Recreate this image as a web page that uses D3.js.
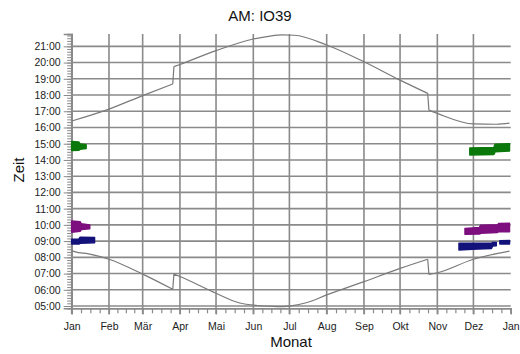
<!DOCTYPE html>
<html><head><meta charset="utf-8">
<script src="https://cdn.jsdelivr.net/npm/d3@7"></script>
<style>body{margin:0;background:#fff}svg{display:block}</style>
</head><body><svg id="c" width="520" height="354"></svg>
<script>
// ---- data ----
const chartTitle = "AM: IO39";
const xTitle = "Monat";
const yTitle = "Zeit";
const monthLabels = ["Jan","Feb","Mär","Apr","Mai","Jun","Jul","Aug","Sep","Okt","Nov","Dez","Jan"];
const hourLabels = ["05:00","06:00","07:00","08:00","09:00","10:00","11:00","12:00","13:00","14:00","15:00","16:00","17:00","18:00","19:00","20:00","21:00"];

const sunsetDates = ["01-01","02-01","03-01","03-26","03-27","04-01","05-01","06-01","06-15","06-25","07-05","08-01","09-01","10-01","10-24","10-25","11-01","12-01","12-20","12-31"];
const sunsetTimes = ["16:24","17:08","17:58","18:41","19:45","19:53","20:44","21:27","21:38","21:42","21:41","21:05","20:03","18:55","18:06","17:04","16:52","16:13","16:12","16:16"];

const sunriseDates = ["01-01","01-04","01-15","02-01","03-01","03-26","03-27","04-01","05-01","05-20","06-07","06-21","07-01","07-15","08-01","09-01","10-01","10-24","10-25","11-01","12-01","12-31"];
const sunriseTimes = ["08:25","08:20","08:13","07:53","06:58","06:02","06:58","06:49","05:47","05:12","05:01","04:58","05:00","05:12","05:41","06:30","07:19","07:53","06:57","07:03","07:53","08:23"];

// bands: segments of [date, from, to]
const greenBand = [
  [["01-01","14:35","15:08"],["01-07","14:36","15:06"],["01-08","14:40","14:59"],["01-13","14:42","14:56"]],
  [["11-28","14:18","14:44"],["12-18","14:20","14:46"],["12-19","14:30","14:58"],["12-31","14:33","15:00"]]
];
const purpleBand = [
  [["01-01","09:33","10:14"],["01-08","09:36","10:12"],["01-09","09:43","10:04"],["01-16","09:46","10:00"]],
  [["11-24","09:25","09:47"],["12-06","09:26","09:50"],["12-07","09:29","09:59"],["12-21","09:32","10:00"],["12-22","09:35","10:05"],["12-31","09:35","10:06"]]
];
const navyBand = [
  [["01-01","08:49","09:07"],["01-07","08:49","09:08"],["01-08","08:52","09:14"],["01-20","08:54","09:13"]],
  [["11-19","08:27","08:52"],["11-30","08:30","08:52"],["12-16","08:33","08:52"],["12-17","08:42","08:55"],["12-20","08:43","08:55"]],
  [["12-23","08:49","09:01"],["12-31","08:49","09:02"]]
];
const bandColors = {green:"#0b780b", purple:"#7d0f7f", navy:"#12127a"};

// ---- helpers ----
const YEAR = 2001;
const DAY = 864e5;
const pd = s => { const [m,d] = s.split("-").map(Number); return new Date(YEAR, m-1, d); };
const pt = s => { const [h,m] = s.split(":").map(Number); return h + m/60; };

const svg = d3.select("#c");
const x = d3.scaleTime().domain([new Date(YEAR,0,1), new Date(YEAR+1,0,1)]).range([71.7, 510.7]);
const y = d3.scaleLinear().domain([4.86, 21.76]).range([308.3, 34]);

const gridCol = "#8a8a8a";
const font = "'Liberation Sans', Arial, sans-serif";

// horizontal gridlines
const hours = d3.range(5, 22);
svg.append("g").selectAll("line").data(hours).join("line")
  .attr("x1", x.range()[0]).attr("x2", x.range()[1])
  .attr("y1", d => y(d)).attr("y2", d => y(d))
  .attr("stroke", gridCol).attr("stroke-width", 1.6);

// vertical gridlines (month starts)
const months = d3.timeMonth.range(new Date(YEAR,0,1), new Date(YEAR+1,0,2));
svg.append("g").selectAll("line").data(months.slice(0,12)).join("line")
  .attr("x1", d => x(d)).attr("x2", d => x(d))
  .attr("y1", y.range()[1]).attr("y2", y.range()[0] + 6)
  .attr("stroke", gridCol).attr("stroke-width", 1.6);

// y axis
const yAxis = d3.axisLeft(y).tickValues(hours).tickFormat((d,i) => hourLabels[i]).tickSize(8).tickPadding(3);
const yMinor = d3.axisLeft(y).tickValues(d3.range(4.86, 21.76, 1/6).map(v => Math.ceil(v*6-1e-6)/6).filter(v => v >= 4.87 && v <= 21.75)).tickFormat("").tickSize(4.5);
const gy = svg.append("g").attr("transform", `translate(${x.range()[0]},0)`).call(yAxis);
const gym = svg.append("g").attr("transform", `translate(${x.range()[0]},0)`).call(yMinor);
[gy, gym].forEach(g => {
  g.select(".domain").attr("stroke", gridCol).attr("stroke-width", 1.6);
  g.selectAll(".tick line").attr("stroke", gridCol).attr("stroke-width", 1);
  g.selectAll("text").attr("font-family", font).attr("font-size", 10.5).attr("fill", "#222");
});

// x axis
const xAxis = d3.axisBottom(x).tickValues(months).tickFormat((d,i) => monthLabels[i]).tickSize(6).tickPadding(8);
const minorDates = [];
months.slice(0,12).forEach((m,i) => {
  const a = +m, b = +months[i+1];
  for (let k = 1; k < 4; k++) minorDates.push(new Date(a + (b-a)*k/4));
});
const xMinor = d3.axisBottom(x).tickValues(minorDates).tickFormat("").tickSize(5);
const gx = svg.append("g").attr("transform", `translate(0,${y.range()[0]})`).call(xAxis);
const gxm = svg.append("g").attr("transform", `translate(0,${y.range()[0]})`).call(xMinor);
[gx, gxm].forEach(g => {
  g.select(".domain").attr("stroke", gridCol).attr("stroke-width", 1.6);
  g.selectAll(".tick line").attr("stroke", gridCol).attr("stroke-width", 1.2);
  g.selectAll("text").attr("font-family", font).attr("font-size", 10.5).attr("fill", "#222");
});

// sunset / sunrise curves: smooth pieces, straight jumps (clock change)
const smooth = d3.line().curve(d3.curveMonotoneX).x(d => x(d[0])).y(d => y(d[1]));
const straight = d3.line().x(d => x(d[0])).y(d => y(d[1]));
function drawCurve(pts) {
  let piece = [pts[0]];
  const out = [];
  for (let i = 1; i < pts.length; i++) {
    if (pts[i][0] - pts[i-1][0] <= 1.5*DAY) {
      out.push(smooth(piece));
      out.push(straight([pts[i-1], pts[i]]));
      piece = [pts[i]];
    } else piece.push(pts[i]);
  }
  out.push(smooth(piece));
  svg.append("path").attr("d", out.join("")).attr("fill", "none")
    .attr("stroke", "#7a7a7a").attr("stroke-width", 1.2).attr("stroke-linejoin", "round");
}
drawCurve(sunsetDates.map((d,i) => [pd(d), pt(sunsetTimes[i])]));
drawCurve(sunriseDates.map((d,i) => [pd(d), pt(sunriseTimes[i])]));

// bands
const area = d3.area().x(d => x(pd(d[0]))).y0(d => y(pt(d[1]))).y1(d => y(pt(d[2])));
[[greenBand,"green"],[purpleBand,"purple"],[navyBand,"navy"]].forEach(([segs, key]) => {
  segs.forEach(seg => {
    svg.append("path").attr("d", area(seg)).attr("fill", bandColors[key])
      .attr("stroke", bandColors[key]).attr("stroke-width", 1.5).attr("stroke-linejoin", "round");
  });
});

// titles
svg.append("text").attr("x", 260).attr("y", 21).attr("text-anchor", "middle")
  .attr("font-family", font).attr("font-size", 15).attr("fill", "#111").text(chartTitle);
svg.append("text").attr("x", 291).attr("y", 346.5).attr("text-anchor", "middle")
  .attr("font-family", font).attr("font-size", 15).attr("fill", "#111").text(xTitle);
svg.append("text").attr("transform", "translate(23.5,170) rotate(-90)").attr("text-anchor", "middle")
  .attr("font-family", font).attr("font-size", 15).attr("fill", "#111").text(yTitle);
</script>
</body></html>
